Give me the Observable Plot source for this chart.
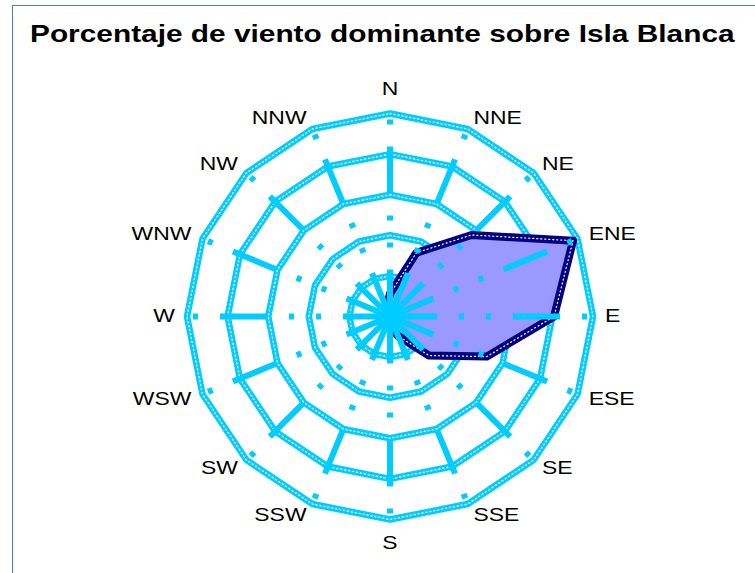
<!DOCTYPE html>
<html>
<head>
<meta charset="utf-8">
<script src="https://cdn.jsdelivr.net/npm/d3@7"></script>
<script src="https://cdn.jsdelivr.net/npm/@observablehq/plot@0.6"></script>
<style>
  html, body { margin: 0; padding: 0; background: #fff; }
  #wrap { position: relative; width: 755px; height: 573px; overflow: hidden; font-family: "Liberation Sans", Arial, sans-serif; }
  #frame { position: absolute; left: 12px; top: 5px; width: 800px; height: 700px; border-left: 1.5px solid #4A7EBB; border-top: 1.5px solid #4A7EBB; }
  #title { position: absolute; left: 30px; top: 20px; font-size: 24px; font-weight: bold; color: #000; white-space: nowrap; transform: scaleX(1.243); transform-origin: 0 0; }
  #chart { position: absolute; left: 0; top: 0; }
</style>
</head>
<body>
<div id="wrap">
  <div id="frame"></div>
  <div id="chart"></div>
  <div id="title">Porcentaje de viento dominante sobre Isla Blanca</div>
</div>
<script>
// Directions (clockwise from north)
const directions = ["N","NNE","NE","ENE","E","ESE","SE","SSE","S","SSW","SW","WSW","W","WNW","NW","NNW"];
// Percentage of dominant wind per direction
const percentages = [2.8, 8.5, 14.2, 24.4, 20.2, 12.9, 6.8, 2.6, 1.2, 0.9, 0.8, 0.8, 0.9, 0.8, 0.9, 1.1];
// Radial grid levels
const gridLevels = [5, 10, 15, 20, 25];
const maxLevel = 25;

const CYAN = "#00CCFF";
const NAVY = "#000080";
const FILL = "#9999FF";

const unit = 8.12, cx = 389.5, cy = 316, W = 755, H = 573;

function angleOf(i) { return Math.PI / 2 - i * 2 * Math.PI / directions.length; }
function px(v, i) { return v * Math.cos(angleOf(i)); }
function py(v, i) { return v * Math.sin(angleOf(i)); }

// grid rings
const rings = [];
for (const lv of gridLevels) {
  for (let k = 0; k <= directions.length; k++) {
    const i = k % directions.length;
    rings.push({level: lv, x: px(lv, i), y: py(lv, i)});
  }
}
// spokes
const spokes = [];
directions.forEach((d, i) => {
  spokes.push({dir: d, x: 0, y: 0});
  spokes.push({dir: d, x: px(maxLevel, i), y: py(maxLevel, i)});
});
// series polygon
const series = [];
for (let k = 0; k <= directions.length; k++) {
  const i = k % directions.length;
  series.push({x: px(percentages[i], i), y: py(percentages[i], i)});
}
// labels: placement group depends on the direction's angle
const labels = directions.map((d, i) => {
  const c = Math.cos(angleOf(i)), s = Math.sin(angleOf(i));
  let group, r;
  if (Math.abs(c) < 0.1) { group = "mid"; r = 227; }
  else if (Math.abs(s) > 0.9) { group = (c > 0 ? "startCorner" : "endCorner"); r = 205; }
  else { group = (c > 0 ? "start" : "end"); r = 215; }
  return {text: d, group, north: s > 0, x: px(r / unit, i), y: py(r / unit, i)};
});

const textOpts = {x: "x", y: "y", text: "text", fontSize: 18.5, fill: "#000", lineAnchor: "middle"};

const chart = Plot.plot({
  width: W,
  height: H,
  margin: 0,
  x: {domain: [-cx / unit, (W - cx) / unit], range: [0, W], axis: null},
  y: {domain: [-(H - cy) / unit, cy / unit], range: [H, 0], axis: null},
  style: {fontFamily: "'Liberation Sans', Arial, sans-serif", background: "transparent"},
  marks: [
    Plot.line(rings, {x: "x", y: "y", z: "level", stroke: CYAN, strokeWidth: 6.5, strokeLinejoin: "round", curve: "linear"}),
    Plot.line(rings, {x: "x", y: "y", z: "level", stroke: "#fff", strokeWidth: 1.3, strokeDasharray: "1.2,2.8", curve: "linear"}),
    Plot.line(series, {x: "x", y: "y", fill: FILL, stroke: NAVY, strokeWidth: 8, strokeLinejoin: "round", curve: "linear"}),
    Plot.line(series, {x: "x", y: "y", stroke: "#fff", strokeWidth: 1.2, strokeDasharray: "1.1,2.9", curve: "linear"}),
    Plot.line(spokes, {x: "x", y: "y", z: "dir", stroke: CYAN, strokeWidth: 6, strokeLinecap: "butt", strokeDasharray: "47,22,5,22,5,22", curve: "linear"}),
    Plot.text(labels.filter(d => d.group === "mid"), {...textOpts, textAnchor: "middle"}),
    Plot.text(labels.filter(d => d.group === "start"), {...textOpts, textAnchor: "start"}),
    Plot.text(labels.filter(d => d.group === "end"), {...textOpts, textAnchor: "end"}),
    Plot.text(labels.filter(d => d.group === "startCorner" && d.north), {...textOpts, textAnchor: "start", dx: 5, dy: -9}),
    Plot.text(labels.filter(d => d.group === "startCorner" && !d.north), {...textOpts, textAnchor: "start", dx: 5, dy: 9}),
    Plot.text(labels.filter(d => d.group === "endCorner" && d.north), {...textOpts, textAnchor: "end", dx: -5, dy: -9}),
    Plot.text(labels.filter(d => d.group === "endCorner" && !d.north), {...textOpts, textAnchor: "end", dx: -5, dy: 9})
  ]
});
// widen label glyphs horizontally like the reference rendering
chart.querySelectorAll("text").forEach(t => {
  const tr = t.getAttribute("transform");
  if (tr) t.setAttribute("transform", tr + " scale(1.24,1)");
});
document.getElementById("chart").appendChild(chart);
</script>
</body>
</html>
